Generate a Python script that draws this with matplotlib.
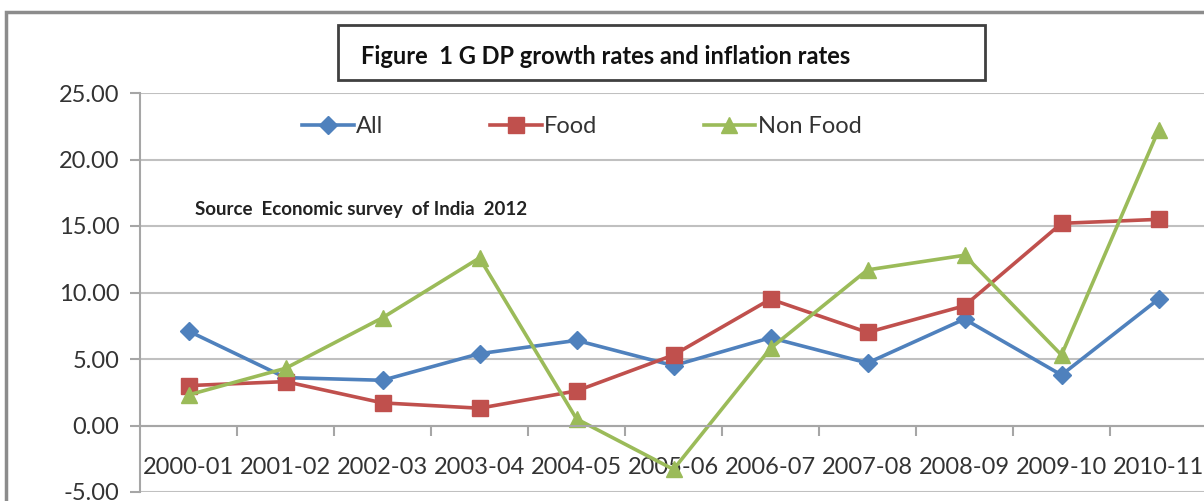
import numpy as np
import matplotlib
matplotlib.use("Agg")
import matplotlib.pyplot as plt
from matplotlib.patches import Rectangle

plt.rcParams['font.family'] = ['Lato', 'DejaVu Sans']

years = ['2000-01', '2001-02', '2002-03', '2003-04', '2004-05', '2005-06',
         '2006-07', '2007-08', '2008-09', '2009-10', '2010-11']
all_items = [7.1, 3.6, 3.4, 5.4, 6.4, 4.5, 6.6, 4.7, 8.0, 3.8, 9.5]
food = [3.0, 3.3, 1.7, 1.3, 2.6, 5.3, 9.5, 7.0, 9.0, 15.2, 15.5]
non_food = [2.3, 4.3, 8.1, 12.6, 0.5, -3.3, 5.8, 11.7, 12.8, 5.3, 22.2]
yticks = [-5, 0, 5, 10, 15, 20, 25]

W, H = 1204, 501
fig = plt.figure(figsize=(12.04, 5.01), dpi=100)

def fx(px):
    return px / W

def fy(py):
    return 1 - py / H

# outer chart border
fig.patches.append(Rectangle((fx(6), fy(1000)), 2.0, fy(12) - fy(1000),
                             transform=fig.transFigure, fill=False,
                             edgecolor='#8c8c8c', lw=2.5))

ax = fig.add_axes([fx(140), fy(492), 1067 / W, 399 / H])
x = np.arange(len(years))

ax.plot(x, all_items, color='#4F81BD', lw=2.6, marker='D', ms=9, label='All')
ax.plot(x, food, color='#C0504D', lw=2.6, marker='s', ms=11, label='Food')
ax.plot(x, non_food, color='#9BBB59', lw=2.6, marker='^', ms=11, label='Non Food')

ax.set_xlim(-0.5, 10.5)
ax.set_ylim(-5, 25)
ax.set_yticks(yticks)
ax.set_yticklabels(['%.2f' % v for v in yticks])
ax.yaxis.grid(True, color='#c0c0c0', lw=1.5)
ax.set_axisbelow(True)
for s in ['top', 'right']:
    ax.spines[s].set_visible(False)
ax.spines['left'].set_color('#a6a6a6')
ax.spines['left'].set_linewidth(1.5)
ax.spines['bottom'].set_position(('data', 0))
ax.spines['bottom'].set_color('#a6a6a6')
ax.spines['bottom'].set_linewidth(1.5)

ax.set_xticks(x)
ax.set_xticklabels(years)
ax.set_xticks(np.arange(0.5, 10, 1), minor=True)
ax.tick_params(axis='x', which='major', length=0, pad=23, labelsize=17, labelcolor='#333333')
ax.tick_params(axis='x', which='minor', length=7, width=1.5, color='#a6a6a6', direction='out')
ax.tick_params(axis='y', length=7, width=1.5, color='#a6a6a6', labelsize=17, labelcolor='#333333', pad=8)

ax.legend(loc='center', bbox_to_anchor=(0.414, 0.915), ncol=3, frameon=False,
          fontsize=17, handlelength=2.2, handletextpad=0.1, columnspacing=4.5,
          labelcolor='#333333')

ax.text(0.0515, 0.707, 'Source  Economic survey  of India  2012', transform=ax.transAxes,
        fontsize=13.5, fontweight='bold', va='center', ha='left', color='#222222')

# title box
fig.patches.append(Rectangle((fx(338), fy(80)), fx(985) - fx(338), fy(25) - fy(80),
                             transform=fig.transFigure, fill=False,
                             edgecolor='#404040', lw=2))
fig.text(fx(361), fy(56), 'Figure  1 G DP growth rates and inflation rates',
         fontsize=17, fontweight='bold', va='center', ha='left', color='#111111')

fig.savefig('out.png', dpi=100)
